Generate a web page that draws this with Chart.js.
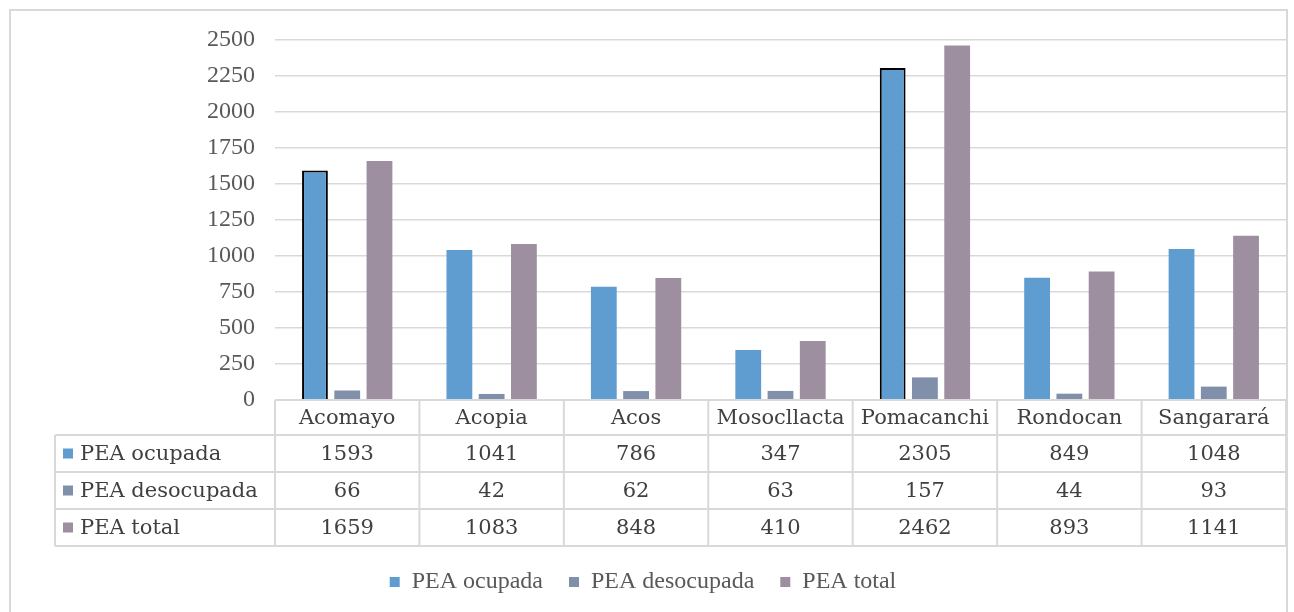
<!DOCTYPE html>
<html>
<head>
<meta charset="utf-8">
<script src="https://cdn.jsdelivr.net/npm/chart.js@4"></script>
<style>
    html, body { margin: 0; padding: 0; background: #fff; }
    #wrap { position: relative; width: 1294px; height: 612px; overflow: hidden; }
    #frame { position: absolute; left: 9px; top: 9px; width: 1279px; height: 620px; border: 2px solid #d9d9d9; box-sizing: border-box; }
    #chart { position: absolute; left: 0; top: 0; }
</style>
</head>
<body>
<div id="wrap">
    <div id="frame"></div>
    <canvas id="chart" width="1294" height="612"></canvas>
</div>
<script>
// data
var districts = ['Acomayo', 'Acopia', 'Acos', 'Mosocllacta', 'Pomacanchi', 'Rondocan', 'Sangarará'];
var peaOcupada = [1593, 1041, 786, 347, 2305, 849, 1048];
var peaDesocupada = [66, 42, 62, 63, 157, 44, 93];
var peaTotal = [1659, 1083, 848, 410, 2462, 893, 1141];
var seriesNames = ['PEA ocupada', 'PEA desocupada', 'PEA total'];
var seriesColors = ['#5f9dd1', '#8090ab', '#9d8fa0'];
var yTicks = [0, 250, 500, 750, 1000, 1250, 1500, 1750, 2000, 2250, 2500];

// only Acomayo and Pomacanchi have the black outline
var outlineWidths = [2, 0, 0, 0, 2, 0, 0];

var tableFont = '21px "DejaVu Serif"';
var headerH = 35;
var rowH = 37;
var tableLeft = 55;

var dataTable = {
    id: 'dataTable',
    afterDraw: function(chart) {
        var ctx = chart.ctx;
        var xs = chart.scales.x;
        var area = chart.chartArea;
        var step = xs.getPixelForValue(1) - xs.getPixelForValue(0);
        var top = area.bottom;
        var rows = [peaOcupada, peaDesocupada, peaTotal];
        var bottom = top + headerH + rowH * rows.length;

        ctx.save();
        ctx.strokeStyle = '#d9d9d9';
        ctx.lineWidth = 2;
        ctx.beginPath();
        ctx.moveTo(area.left, top); ctx.lineTo(area.right, top);
        for (var r = 0; r <= rows.length; r++) {
            var y = top + headerH + r * rowH;
            ctx.moveTo(tableLeft, y); ctx.lineTo(area.right, y);
        }
        ctx.moveTo(tableLeft, top + headerH); ctx.lineTo(tableLeft, bottom);
        for (var c = 0; c <= districts.length; c++) {
            var x = xs.getPixelForValue(0) - step / 2 + c * step;
            ctx.moveTo(x, top); ctx.lineTo(x, bottom);
        }
        ctx.stroke();

        ctx.fillStyle = '#404040';
        ctx.font = tableFont;
        ctx.textAlign = 'center';
        ctx.textBaseline = 'middle';
        districts.forEach(function(d, i) {
            ctx.fillText(d, xs.getPixelForValue(i), top + headerH / 2 + 1);
        });
        rows.forEach(function(vals, r) {
            var cy = top + headerH + r * rowH + rowH / 2 + 1;
            vals.forEach(function(v, i) {
                ctx.fillText(String(v), xs.getPixelForValue(i), cy);
            });
            ctx.fillStyle = seriesColors[r];
            ctx.fillRect(tableLeft + 8, cy - 6, 10, 10);
            ctx.fillStyle = '#404040';
            ctx.textAlign = 'left';
            ctx.fillText(seriesNames[r], tableLeft + 25, cy);
            ctx.textAlign = 'center';
        });
        ctx.restore();
    }
};

var chart = new Chart(document.getElementById('chart'), {
    type: 'bar',
    data: {
        labels: districts,
        datasets: [
            { label: seriesNames[0], data: peaOcupada, backgroundColor: seriesColors[0], borderColor: '#000', borderWidth: outlineWidths, borderSkipped: 'bottom' },
            { label: seriesNames[1], data: peaDesocupada, backgroundColor: seriesColors[1], borderWidth: 0 },
            { label: seriesNames[2], data: peaTotal, backgroundColor: seriesColors[2], borderWidth: 0 }
        ]
    },
    options: {
        responsive: false,
        animation: false,
        categoryPercentage: 0.67,
        barPercentage: 0.8,
        layout: { padding: { top: 40, right: 8, left: 0, bottom: 8 } },
        plugins: {
            tooltip: { enabled: false },
            legend: {
                position: 'bottom',
                labels: {
                    boxWidth: 10,
                    boxHeight: 10,
                    padding: 26,
                    color: '#595959',
                    font: { family: 'Liberation Serif', size: 24 },
                    generateLabels: function(chart) {
                        return chart.data.datasets.map(function(ds, i) {
                            return {
                                text: ds.label,
                                fillStyle: seriesColors[i],
                                strokeStyle: seriesColors[i],
                                lineWidth: 0,
                                fontColor: '#595959',
                                hidden: false,
                                datasetIndex: i
                            };
                        });
                    }
                }
            }
        },
        scales: {
            x: {
                grid: { display: false },
                border: { display: false },
                ticks: { display: false },
                afterFit: function(scale) { scale.height = 144; }
            },
            y: {
                min: 0,
                max: 2500,
                afterBuildTicks: function(scale) {
                    scale.ticks = yTicks.map(function(v) { return { value: v }; });
                },
                grid: { color: '#d9d9d9', lineWidth: 1.5, drawTicks: false },
                border: { display: false },
                ticks: {
                    padding: 20,
                    color: '#595959',
                    font: { family: 'Liberation Serif', size: 24 },
                    callback: function(v) { return String(v); }
                },
                afterFit: function(scale) { scale.width = 275; }
            }
        }
    },
    plugins: [dataTable]
});
</script>
</body>
</html>
